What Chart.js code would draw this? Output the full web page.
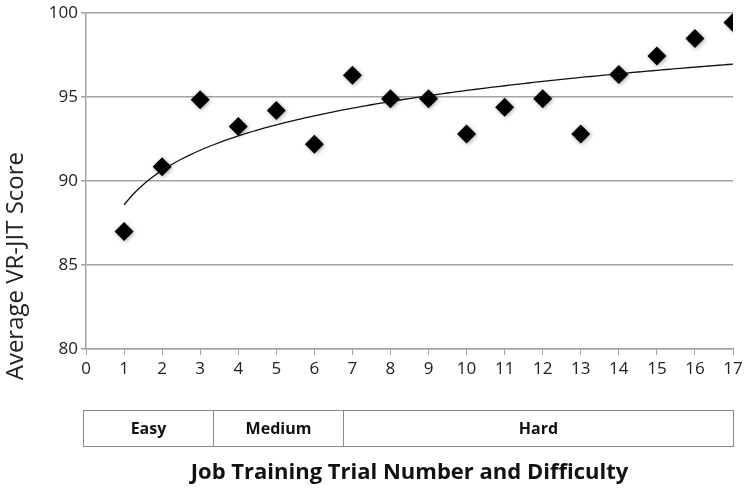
<!DOCTYPE html>
<html>
<head>
<meta charset="utf-8">
<script src="https://cdn.jsdelivr.net/npm/chart.js@4/dist/chart.umd.min.js"></script>
<style>
  html, body { margin: 0; padding: 0; background: #fff; }
  #wrap { width: 750px; height: 492px; }
</style>
</head>
<body>
<div id="wrap"><canvas id="myChart" width="750" height="492"></canvas></div>
<script>
// trial numbers and average scores
var trials = [1, 2, 3, 4, 5, 6, 7, 8, 9, 10, 11, 12, 13, 14, 15, 16, 17];
var scores = [87.0, 90.85, 94.85, 93.25, 94.2, 92.2, 96.3, 94.9, 94.9, 92.8, 94.4, 94.9, 92.8, 96.35, 97.45, 98.5, 99.45];

// difficulty bands below the axis (in trial units)
var bandNames = ['Easy', 'Medium', 'Hard'];
var bandStart = [-0.08, 3.34, 6.75];
var bandEnd = [3.34, 6.75, 17];

var yTicks = [80, 85, 90, 95, 100];

var yTitle = 'Average VR-JIT Score';
var xTitle = 'Job Training Trial Number and Difficulty';

// logarithmic trendline, least squares on the data
var n = trials.length, sx = 0, sy = 0, sxx = 0, sxy = 0;
for (var i = 0; i < n; i++) {
  var lx = Math.log(trials[i]);
  sx += lx; sy += scores[i]; sxx += lx * lx; sxy += lx * scores[i];
}
var b = (n * sxy - sx * sy) / (n * sxx - sx * sx);
var a = (sy - b * sx) / n;
var trend = [];
for (var t = 1; t <= 17.001; t += 0.25) {
  trend.push({x: t, y: a + b * Math.log(t)});
}

var points = trials.map(function (x, i) { return {x: x, y: scores[i]}; });

var gray = '#a3a3a3';
var font = '"Open Sans", "Liberation Sans", sans-serif';

var bandPlugin = {
  id: 'bands',
  beforeDatasetDraw: function (chart, args) {
    if (args.index === 1) {
      chart.ctx.save();
      chart.ctx.shadowColor = 'rgba(0,0,0,0.35)';
      chart.ctx.shadowBlur = 4;
      chart.ctx.shadowOffsetX = 1;
      chart.ctx.shadowOffsetY = 1;
    }
  },
  afterDatasetDraw: function (chart, args) {
    if (args.index === 1) chart.ctx.restore();
  },
  afterDraw: function (chart) {
    var ctx = chart.ctx;
    var xs = chart.scales.x;
    var area = chart.chartArea;
    var top = area.bottom + 61;
    var h = 36;
    ctx.save();
    ctx.strokeStyle = '#8a8a8a';
    ctx.lineWidth = 1;
    ctx.fillStyle = '#111';
    ctx.font = 'bold 16px ' + font;
    ctx.textAlign = 'center';
    ctx.textBaseline = 'middle';
    for (var i = 0; i < bandNames.length; i++) {
      var x0 = Math.round(xs.getPixelForValue(bandStart[i])) + 0.5;
      var x1 = Math.round(xs.getPixelForValue(bandEnd[i])) + 0.5;
      ctx.strokeRect(x0, top + 0.5, x1 - x0, h);
      ctx.fillText(bandNames[i], (x0 + x1) / 2, top + h / 2 + 1);
    }
    // y title sits lower than the plot centre in the original
    ctx.translate(16, (area.top + area.bottom) / 2 + 85);
    ctx.rotate(-Math.PI / 2);
    ctx.fillStyle = '#222';
    ctx.font = '24px ' + font;
    ctx.fillText(yTitle, 0, 0);
    ctx.restore();
  }
};

var ctx = document.getElementById('myChart').getContext('2d');
var myChart = new Chart(ctx, {
  type: 'scatter',
  data: {
    datasets: [{
      label: 'Trend',
      type: 'line',
      data: trend,
      borderColor: '#111',
      borderWidth: 1.3,
      pointRadius: 0,
      tension: 0.3,
      fill: false
    }, {
      label: yTitle,
      data: points,
      pointStyle: 'rectRot',
      pointRadius: 9.5,
      pointHoverRadius: 9.5,
      backgroundColor: '#000',
      borderColor: '#000',
      borderWidth: 0
    }]
  },
  options: {
    responsive: false,
    animation: false,
    layout: { padding: { left: 2, right: 17, top: 7, bottom: 0 } },
    plugins: {
      legend: { display: false },
      tooltip: { enabled: false }
    },
    scales: {
      x: {
        type: 'linear',
        min: 0,
        max: 17,
        ticks: {
          stepSize: 1,
          padding: 4,
          color: '#222',
          font: { family: font, size: 17 }
        },
        grid: { drawOnChartArea: false, drawTicks: true, tickLength: 6, color: gray },
        border: { color: gray, width: 1.5 },
        title: {
          display: true,
          text: xTitle,
          color: '#111',
          font: { family: font, size: 22, weight: 'bold' },
          padding: { top: 0, bottom: 6 }
        },
        afterFit: function (scale) { scale.height = 143; }
      },
      y: {
        min: 80,
        max: 100,
        afterBuildTicks: function (scale) {
          scale.ticks = yTicks.map(function (v) { return {value: v}; });
        },
        ticks: {
          padding: 3,
          color: '#222',
          font: { family: font, size: 17 }
        },
        grid: { color: gray, lineWidth: 1.5, tickLength: 5 },
        border: { color: gray, width: 1.5 },
        afterFit: function (scale) { scale.width = 84; }
      }
    }
  },
  plugins: [bandPlugin]
});
</script>
</body>
</html>
